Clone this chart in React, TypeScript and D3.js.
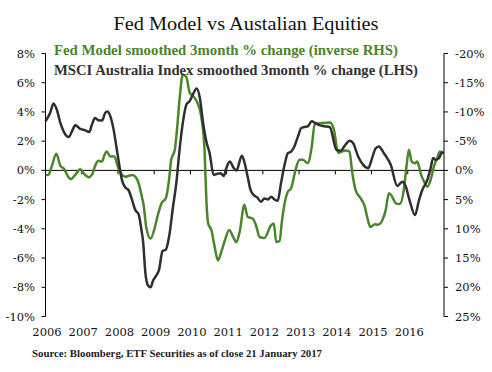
import React from "react";
import * as d3 from "d3";

// MSCI Australia Index smoothed 3month % change (LHS) — decimal years / %
const msciDates = [2006.00,2006.13,2006.22,2006.31,2006.41,2006.50,2006.64,2006.73,2006.82,2006.96,2007.10,2007.21,2007.28,2007.37,2007.46,2007.56,2007.65,2007.71,2007.79,2007.88,2007.97,2008.05,2008.11,2008.20,2008.29,2008.39,2008.48,2008.57,2008.65,2008.69,2008.76,2008.83,2008.90,2008.97,2009.06,2009.13,2009.23,2009.32,2009.41,2009.52,2009.61,2009.70,2009.79,2009.89,2009.98,2010.07,2010.17,2010.26,2010.35,2010.44,2010.53,2010.64,2010.73,2010.83,2010.92,2010.99,2011.09,2011.18,2011.27,2011.42,2011.51,2011.58,2011.66,2011.75,2011.84,2011.95,2012.04,2012.14,2012.23,2012.32,2012.41,2012.50,2012.60,2012.69,2012.78,2012.87,2012.97,2013.06,2013.15,2013.24,2013.35,2013.44,2013.56,2013.70,2013.85,2014.03,2014.15,2014.26,2014.40,2014.49,2014.63,2014.77,2014.91,2015.00,2015.11,2015.20,2015.34,2015.53,2015.71,2015.85,2015.94,2016.05,2016.20,2016.31,2016.40,2016.54,2016.63,2016.70,2016.77,2016.86,2016.95,2017.00];
const msciValues = [3.36,3.94,4.58,4.17,3.25,2.67,2.28,2.67,3.09,2.84,2.74,2.63,3.13,3.59,3.43,3.41,3.94,4.03,3.70,2.79,1.41,0.15,-0.65,-1.16,-1.34,-2.03,-2.72,-3.0,-4.1,-4.78,-7.08,-7.88,-8.0,-7.54,-7.19,-6.85,-5.52,-5.43,-4.56,-2.49,-0.88,1.41,3.25,4.51,4.74,5.2,5.61,4.97,3.25,1.98,1.18,-0.31,-0.24,-0.19,-0.38,0.15,0.61,0.22,-0.01,1.0,0.38,-0.43,-1.34,-1.69,-1.85,-2.15,-1.92,-1.99,-1.8,-1.99,-2.08,-0.88,0.38,1.18,1.29,1.64,2.33,2.9,2.97,3.02,3.36,3.25,3.1,3.02,2.95,1.41,1.35,1.7,2.03,1.87,0.95,0.38,0.15,0.72,1.5,1.64,1.18,0.38,-1.07,-0.77,-1.07,-2.05,-3.06,-2.03,-1.34,-0.65,0.15,0.84,0.72,0.84,1.23,1.18];

// Fed Model smoothed 3month % change (inverse RHS) — decimal years / %
const fedDates = [2006.00,2006.08,2006.17,2006.30,2006.41,2006.52,2006.61,2006.70,2006.82,2006.96,2007.05,2007.19,2007.28,2007.37,2007.46,2007.56,2007.62,2007.69,2007.79,2007.90,2007.99,2008.08,2008.20,2008.29,2008.39,2008.48,2008.57,2008.66,2008.71,2008.78,2008.90,2009.01,2009.10,2009.20,2009.32,2009.41,2009.47,2009.57,2009.63,2009.70,2009.79,2009.89,2009.98,2010.12,2010.21,2010.30,2010.39,2010.44,2010.49,2010.58,2010.67,2010.76,2010.85,2010.95,2011.07,2011.18,2011.27,2011.36,2011.49,2011.58,2011.72,2011.81,2011.91,2012.04,2012.23,2012.30,2012.37,2012.46,2012.53,2012.60,2012.69,2012.78,2012.89,2013.01,2013.10,2013.24,2013.35,2013.43,2013.52,2013.70,2013.85,2013.96,2014.08,2014.18,2014.31,2014.39,2014.47,2014.56,2014.70,2014.81,2014.88,2014.97,2015.09,2015.18,2015.30,2015.39,2015.48,2015.57,2015.67,2015.78,2015.89,2015.97,2016.03,2016.11,2016.20,2016.26,2016.37,2016.45,2016.54,2016.63,2016.72,2016.81,2016.89,2016.98];
const fedValues = [0.77,0.77,-0.65,-2.84,-0.77,-0.2,0.95,1.51,0.77,-0.2,0.48,1.17,0.77,-0.77,-1.63,-1.51,-2.5,-3.24,-2.38,-2.38,-0.77,0.48,1.07,0.95,0.77,1.07,2.2,4.5,6.0,9.67,11.67,9.95,7.66,5.65,4.78,1.64,-1.81,-3.53,-6.97,-12.1,-16.4,-15.9,-13.3,-12.4,-11.3,-9.2,-3.5,5.0,9.09,10.24,13.1,15.4,14.0,12.0,10.2,11.4,12.3,10.5,5.9,7.95,8.23,9.38,11.4,11.57,9.38,9.09,12.25,12.08,8.52,5.65,3.65,3.06,0.2,-1.81,-1.81,-1.24,-4.1,-7.83,-8.0,-8.12,-8.2,-7.0,-2.96,-3.24,-3.41,-3.2,0.48,3.36,4.78,6.1,8.0,9.7,9.2,9.3,8.5,6.8,3.9,4.5,5.65,5.77,3.36,-0.95,-3.53,-1.51,-1.24,-1.51,0.77,1.93,2.79,1.64,-0.65,-2.1,-3.24,-2.96];

const leftTicks = [8, 6, 4, 2, 0, -2, -4, -6, -8, -10];
const rightTicks = [-20, -15, -10, -5, 0, 5, 10, 15, 20, 25];
const years = [2006, 2007, 2008, 2009, 2010, 2011, 2012, 2013, 2014, 2015, 2016];

const title = "Fed Model vs Austalian Equities";
const legendFed = "Fed Model smoothed 3month % change (inverse RHS)";
const legendMsci = "MSCI Australia Index smoothed 3month % change (LHS)";
const source = "Source: Bloomberg, ETF Securities as of close 21 January 2017";

const GREEN = "#4a862b";
const DARK = "#2f2f2f";
const FONT = "'Liberation Serif', 'DejaVu Serif', serif";
const TICKFONT = "'DejaVu Serif', 'Liberation Serif', serif";

export default function App() {
  const W = 492, H = 372;
  const x0 = 45.5, x1 = 444;
  const x = d3.scaleLinear().domain([2006, 2017]).range([x0, x1]);
  const yL = d3.scaleLinear().domain([-10, 8]).range([316.5, 53.5]);
  const yR = d3.scaleLinear().domain([25, -20]).range([316.5, 53.5]);

  const msci = msciDates.map((d, i) => [d, msciValues[i]] as [number, number]);
  const fed = fedDates.map((d, i) => [d, fedValues[i]] as [number, number]);
  const lineL = d3.line<[number, number]>().x(d => x(d[0])).y(d => yL(d[1])).curve(d3.curveMonotoneX);
  const lineR = d3.line<[number, number]>().x(d => x(d[0])).y(d => yR(d[1])).curve(d3.curveMonotoneX);

  const y0 = yL(0);

  return (
    <svg width={W} height={H} style={{ position: "absolute", left: 0, top: 0, background: "#fff" }} fontFamily={FONT}>
      <rect width={W} height={H} fill="#fff" />
      <text x={246} y={30} textAnchor="middle" fontSize={19} fill="#111" textLength={265} lengthAdjust="spacingAndGlyphs">{title}</text>

      {/* left axis */}
      <line x1={x0} x2={x0} y1={yL(8)} y2={yL(-10)} stroke="#000" strokeWidth={1} />
      {leftTicks.map(t => (
        <g key={"l" + t}>
          <line x1={x0 - 4} x2={x0} y1={yL(t)} y2={yL(t)} stroke="#000" />
          <text x={35} y={yL(t) + 4} textAnchor="end" fontSize={11.5} fontFamily={TICKFONT} fill="#111">{t + "%"}</text>
        </g>
      ))}
      {/* right axis */}
      <line x1={x1} x2={x1} y1={yR(-20)} y2={yR(25)} stroke="#000" strokeWidth={1} />
      {rightTicks.map(t => (
        <g key={"r" + t}>
          <line x1={x1} x2={x1 + 4} y1={yR(t)} y2={yR(t)} stroke="#000" />
          <text x={455} y={yR(t) + 4} textAnchor="start" fontSize={11.5} fontFamily={TICKFONT} fill="#111">{t + "%"}</text>
        </g>
      ))}
      {/* zero line + year ticks */}
      <line x1={x0} x2={x1} y1={y0} y2={y0} stroke="#000" strokeWidth={1} />
      {years.map(yr => (
        <g key={"y" + yr}>
          <line x1={x(yr)} x2={x(yr)} y1={y0} y2={y0 + 4} stroke="#000" />
          <text x={x(yr) + 1.5} y={336} textAnchor="middle" fontSize={11.5} fontFamily={TICKFONT} fill="#111">{yr}</text>
        </g>
      ))}

      <path d={lineR(fed) || ""} fill="none" stroke={GREEN} strokeWidth={2.5} strokeLinejoin="round" />
      <path d={lineL(msci) || ""} fill="none" stroke={DARK} strokeWidth={2.5} strokeLinejoin="round" />

      <text x={54} y={54.5} fontSize={14} fontWeight="bold" fill={GREEN} textLength={344} lengthAdjust="spacingAndGlyphs">{legendFed}</text>
      <text x={54} y={75} fontSize={14} fontWeight="bold" fill="#333" textLength={364} lengthAdjust="spacingAndGlyphs">{legendMsci}</text>

      <text x={32} y={357} fontSize={10.5} fontWeight="bold" fill="#222" textLength={290} lengthAdjust="spacingAndGlyphs">{source}</text>
    </svg>
  );
}
